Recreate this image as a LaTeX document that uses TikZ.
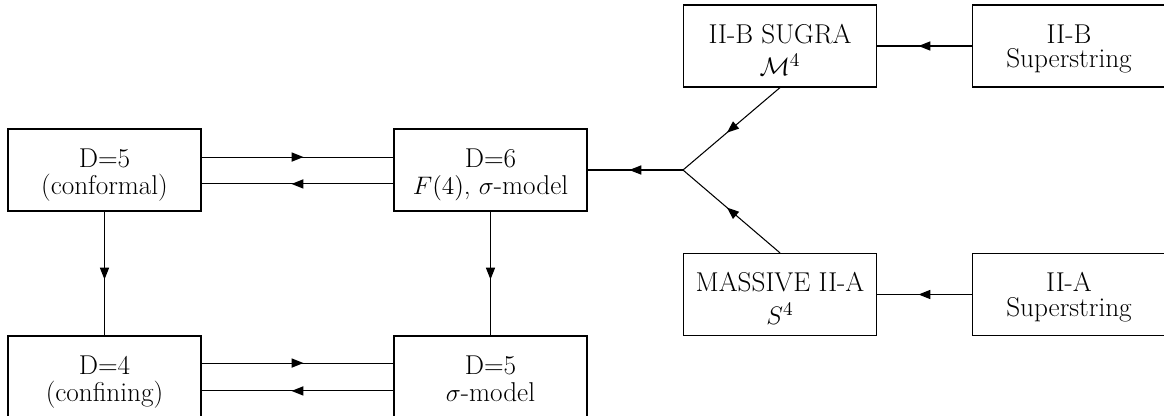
\documentclass[tikz,border=0pt]{standalone}
\usetikzlibrary{decorations.markings}
\newcommand\mytop[1]{\rule{0pt}{#1}}
\newcommand\mybot{\rule[-0.16cm]{0pt}{0.16cm}}
\tikzset{
  box/.style={draw, line width=0.7pt, minimum width=3.86cm, minimum height=1.64cm,
    inner sep=0pt, align=center, font=\fontsize{15.5pt}{15.87pt}\selectfont},
  conn/.style={line width=0.6pt},
  midarr/.style={conn, postaction={decorate}, decoration={markings,
    mark=at position 0.5 with {\fill (3.4pt,0pt) -- (-3.4pt,2.7pt) -- (-3.4pt,-2.7pt) -- cycle;}}}
}
\begin{document}
\begin{tikzpicture}[x=0.02cm,y=-0.02cm]
\useasboundingbox (0,0) rectangle (1164,416);
\clip (0,0) rectangle (1164,416);
\node[box] (conf) at (104.5,170) {\mytop{0.6cm}D=5\\(conformal)\mybot};
\node[box] (d6) at (490.5,170) {\mytop{0.6cm}D=6\\$F(4)$, $\sigma$-model\mybot};
\node[box] (d4) at (104.5,377) {\mytop{0.6cm}D=4\\(confining)\mybot};
\node[box] (sig) at (490.5,377) {\mytop{0.6cm}D=5\\$\sigma$-model\mybot};
\node[box] (sugra) at (780,46) {\mytop{0.7cm}II-B SUGRA\\[0.1cm]$\mathcal{M}^4$\mybot};
\node[box] (iib) at (1069,46) {\mytop{0.54cm}II-B\\[-0.06cm]Superstring\mybot};
\node[box] (mass) at (780,294.5) {\mytop{0.7cm}MASSIVE II-A\\[0.1cm]$S^4$\mybot};
\node[box] (iia) at (1069,294.5) {\mytop{0.54cm}II-A\\[-0.06cm]Superstring\mybot};
\coordinate (j) at (683,170);
\draw[midarr] ([yshift=7.37pt]conf.east) -- ([yshift=7.37pt]d6.west);
\draw[midarr] ([yshift=-7.94pt]d6.west) -- ([yshift=-7.94pt]conf.east);
\draw[midarr] ([yshift=7.94pt]d4.east) -- ([yshift=7.94pt]sig.west);
\draw[midarr] ([yshift=-7.94pt]sig.west) -- ([yshift=-7.94pt]d4.east);
\draw[midarr] (conf.south) -- (d4.north);
\draw[midarr] (d6.south) -- (sig.north);
\draw[midarr] (j) -- (d6.east);
\draw[midarr] (sugra.south) -- (j);
\draw[midarr] (mass.north) -- (j);
\draw[midarr] (iib.west) -- (sugra.east);
\draw[midarr] (iia.west) -- (mass.east);
\end{tikzpicture}
\end{document}
